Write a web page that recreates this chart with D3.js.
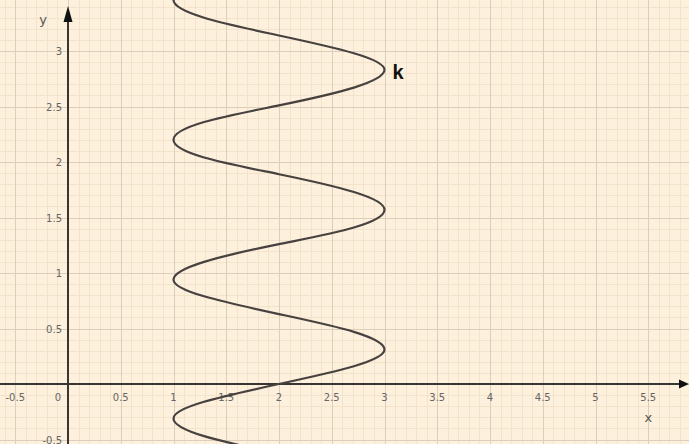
<!DOCTYPE html>
<html>
<head>
<meta charset="utf-8">
<script src="https://cdn.jsdelivr.net/npm/d3@7"></script>
<style>
  html, body { margin: 0; padding: 0; background: #fdf0dc; }
  svg { display: block; }
</style>
</head>
<body>
<svg id="chart" width="689" height="444"></svg>
<script>
// Tick labels on each axis
const xTicks = [-0.5, 0, 0.5, 1, 1.5, 2, 2.5, 3, 3.5, 4, 4.5, 5, 5.5];
const yTicks = [-0.5, 0.5, 1, 1.5, 2, 2.5, 3];

// Points along curve k (x as a function of y)
const curveY = [-0.79, -0.63, -0.47, -0.31, -0.16, 0, 0.16, 0.31, 0.47, 0.63, 0.79, 0.94, 1.10, 1.26, 1.41, 1.57, 1.73, 1.89, 2.04, 2.20, 2.36, 2.51, 2.67, 2.83, 2.98, 3.14, 3.30, 3.46, 3.61, 3.77];
const curveX = [2.71, 2, 1.29, 1, 1.29, 2, 2.71, 3, 2.71, 2, 1.29, 1, 1.29, 2, 2.71, 3, 2.71, 2, 1.29, 1, 1.29, 2, 2.71, 3, 2.71, 2, 1.29, 1, 1.29, 2];

const curveName = "k";
const labelAt = { x: 3, y: 2.83 };

const W = 689, H = 444;
const svg = d3.select("#chart");

const x = d3.scaleLinear().domain([0, 1]).range([68, 173.5]);
const y = d3.scaleLinear().domain([0, 1]).range([384, 273]);

const xMin = x.invert(0), xMax = x.invert(W);
const yMin = y.invert(H), yMax = y.invert(0);

svg.append("rect").attr("width", W).attr("height", H).attr("fill", "#fdf0dc");

// grid: minor every 0.1, major every 0.5
const minorX = d3.range(Math.ceil(xMin * 10), Math.floor(xMax * 10) + 1).map(d => d / 10);
const minorY = d3.range(Math.ceil(yMin * 10), Math.floor(yMax * 10) + 1).map(d => d / 10);
const isMajor = v => Math.abs(v * 2 - Math.round(v * 2)) < 1e-6;

const grid = svg.append("g").attr("shape-rendering", "crispEdges");
grid.selectAll(".vx").data(minorX.filter(v => !isMajor(v))).join("line")
  .attr("x1", d => Math.round(x(d)) + 0.5).attr("x2", d => Math.round(x(d)) + 0.5)
  .attr("y1", 0).attr("y2", H).attr("stroke", "#f3e3cb").attr("stroke-width", 1);
grid.selectAll(".hy").data(minorY.filter(v => !isMajor(v))).join("line")
  .attr("y1", d => Math.round(y(d)) + 0.5).attr("y2", d => Math.round(y(d)) + 0.5)
  .attr("x1", 0).attr("x2", W).attr("stroke", "#f3e3cb").attr("stroke-width", 1);
grid.selectAll(".Vx").data(minorX.filter(isMajor)).join("line")
  .attr("x1", d => Math.round(x(d)) + 0.5).attr("x2", d => Math.round(x(d)) + 0.5)
  .attr("y1", 0).attr("y2", H).attr("stroke", "#dccebb").attr("stroke-width", 1.3);
grid.selectAll(".Hy").data(minorY.filter(isMajor)).join("line")
  .attr("y1", d => Math.round(y(d)) + 0.5).attr("y2", d => Math.round(y(d)) + 0.5)
  .attr("x1", 0).attr("x2", W).attr("stroke", "#dccebb").attr("stroke-width", 1.3);

// axes
const axisColor = "#3a3533";
svg.append("line").attr("x1", 0).attr("x2", W - 8).attr("y1", y(0)).attr("y2", y(0))
  .attr("stroke", axisColor).attr("stroke-width", 2);
svg.append("line").attr("x1", x(0)).attr("x2", x(0)).attr("y1", H).attr("y2", 16)
  .attr("stroke", axisColor).attr("stroke-width", 2);
svg.append("path")
  .attr("d", `M${W},${y(0)} L${W - 10},${y(0) - 4.5} L${W - 10},${y(0) + 4.5} Z`)
  .attr("fill", "#111");
svg.append("path")
  .attr("d", `M${x(0)},6 L${x(0) - 4.5},22 L${x(0) + 4.5},22 Z`)
  .attr("fill", "#111");

// tick labels
const lab = svg.append("g").attr("font-family", "DejaVu Sans, sans-serif")
  .attr("font-size", 10).attr("fill", "#666");
lab.selectAll(".xl").data(xTicks).join("text")
  .attr("x", d => d === 0 ? x(0) - 10 : x(d))
  .attr("y", y(0) + 17)
  .attr("text-anchor", "middle")
  .text(d => d < 0 ? "-" + Math.abs(d) : String(d));
lab.selectAll(".yl").data(yTicks).join("text")
  .attr("x", x(0) - 6)
  .attr("y", d => y(d) + 4)
  .attr("text-anchor", "end")
  .text(d => d < 0 ? "-" + Math.abs(d) : String(d));

// axis names
svg.append("text").attr("x", 43).attr("y", 24).attr("text-anchor", "middle")
  .attr("font-family", "DejaVu Sans, sans-serif").attr("font-size", 13).attr("fill", "#555").text("y");
svg.append("text").attr("x", x(5.5)).attr("y", 422).attr("text-anchor", "middle")
  .attr("font-family", "DejaVu Sans, sans-serif").attr("font-size", 13).attr("fill", "#555").text("x");

// curve
const pts = curveY.map((v, i) => ({ x: curveX[i], y: v }));
svg.append("defs").append("clipPath").attr("id", "plot")
  .append("rect").attr("width", W).attr("height", H);
svg.append("path")
  .datum(pts)
  .attr("clip-path", "url(#plot)")
  .attr("d", d3.line().x(d => x(d.x)).y(d => y(d.y)).curve(d3.curveNatural))
  .attr("fill", "none").attr("stroke", "#474240").attr("stroke-width", 2.2);

svg.append("text")
  .attr("x", x(labelAt.x) + 8).attr("y", y(labelAt.y) + 9)
  .attr("font-family", "Liberation Sans, Arial, sans-serif").attr("font-weight", "bold")
  .attr("font-size", 20).attr("fill", "#111").text(curveName);
</script>
</body>
</html>
